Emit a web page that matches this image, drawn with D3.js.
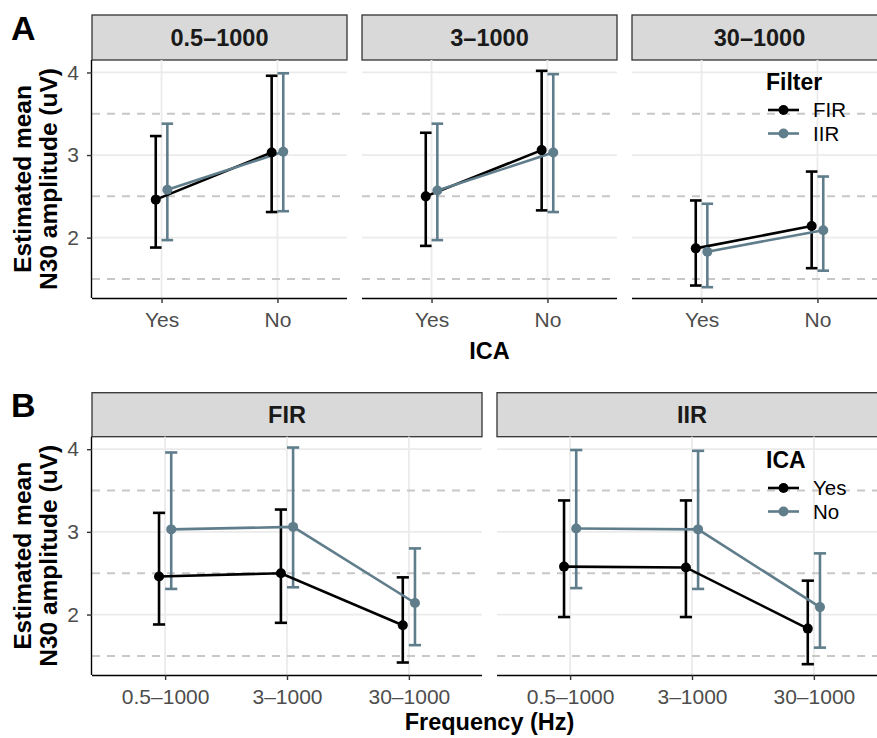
<!DOCTYPE html>
<html><head><meta charset="utf-8">
<script src="https://cdn.jsdelivr.net/npm/d3@7"></script>
<style>body{margin:0;background:#fff;} svg{display:block;font-family:"Liberation Sans",Arial,Helvetica,sans-serif;}</style>
</head><body><svg id="c" width="877" height="738"></svg>
<script>
// ---- data ----
const freqs = ["0.5–1000", "3–1000", "30–1000"];
const filters = ["FIR", "IIR"];
const icaLevels = ["Yes", "No"];
const yTicks = [2, 3, 4];
const refLines = [1.5, 2.5, 3.5];
// values per frequency (0.5–1000, 3–1000, 30–1000)
const firYesMean = [2.46, 2.50, 1.87];
const firYesLow  = [1.88, 1.90, 1.42];
const firYesHigh = [3.23, 3.27, 2.45];
const firNoMean  = [3.03, 3.06, 2.14];
const firNoLow   = [2.31, 2.33, 1.63];
const firNoHigh  = [3.96, 4.02, 2.80];
const iirYesMean = [2.58, 2.57, 1.83];
const iirYesLow  = [1.97, 1.97, 1.40];
const iirYesHigh = [3.38, 3.38, 2.41];
const iirNoMean  = [3.04, 3.03, 2.09];
const iirNoLow   = [2.32, 2.31, 1.60];
const iirNoHigh  = [3.99, 3.98, 2.74];

const table = {
  FIR: {Yes: [firYesMean, firYesLow, firYesHigh], No: [firNoMean, firNoLow, firNoHigh]},
  IIR: {Yes: [iirYesMean, iirYesLow, iirYesHigh], No: [iirNoMean, iirNoLow, iirNoHigh]}
};
const rows = [];
filters.forEach(f => icaLevels.forEach(ic => freqs.forEach((fr, i) => {
  const t = table[f][ic];
  rows.push({filter: f, ica: ic, freq: fr, mean: t[0][i], low: t[1][i], high: t[2][i]});
})));

const COL1 = "#000000", COL2 = "#607D8B";
const LW = 2.6, PR = 5;
const lo = d3.min(rows, d => d.low), hi = d3.max(rows, d => d.high), pad = (hi - lo) * 0.05;

const svg = d3.select("#c");

function facetRow(cfg) {
  const left = 92, right = 887, gap = 15;
  const n = cfg.facets.length;
  const w = (right - left - gap * (n - 1)) / n;
  const plotTop = cfg.plotTop, plotBot = cfg.plotTop + cfg.plotH;
  const y = d3.scaleLinear().domain([lo - pad, hi + pad]).range([plotBot, plotTop]);
  const colorOf = d3.scaleOrdinal().domain(cfg.groupLevels).range([COL1, COL2]);

  cfg.facets.forEach((fac, fi) => {
    const x0 = left + fi * (w + gap);
    const x = d3.scalePoint().domain(cfg.xLevels).range([x0, x0 + w]).padding(0.6);
    const step = x.step();
    const dodge = d3.scalePoint().domain(cfg.groupLevels).range([-0.05 * step, 0.05 * step]);
    const g = svg.append("g");

    // strip
    g.append("rect").attr("x", x0).attr("y", cfg.stripTop).attr("width", w).attr("height", plotTop - cfg.stripTop)
      .attr("fill", "#D9D9D9").attr("stroke", "#333333").attr("stroke-width", 1.3);
    g.append("text").attr("x", x0 + w / 2).attr("y", (cfg.stripTop + plotTop) / 2).attr("dy", "0.36em")
      .attr("text-anchor", "middle").attr("font-size", 23.5).attr("font-weight", "bold").attr("fill", "#1A1A1A").text(fac);

    // grid
    g.selectAll(".gh").data(yTicks).join("line")
      .attr("x1", x0).attr("x2", x0 + w).attr("y1", d => y(d)).attr("y2", d => y(d))
      .attr("stroke", "#EBEBEB").attr("stroke-width", 1.8);
    g.selectAll(".gv").data(cfg.xLevels).join("line")
      .attr("x1", d => x(d)).attr("x2", d => x(d)).attr("y1", plotTop).attr("y2", plotBot)
      .attr("stroke", "#EBEBEB").attr("stroke-width", 1.8);
    g.selectAll(".rl").data(refLines).join("line")
      .attr("x1", x0).attr("x2", x0 + w).attr("y1", d => y(d)).attr("y2", d => y(d))
      .attr("stroke", "#C8C8C8").attr("stroke-width", 2).attr("stroke-dasharray", "8,7");

    // x axis
    const xa = g.append("g").attr("transform", `translate(0,${plotBot})`)
      .call(d3.axisBottom(x).tickSize(5).tickPadding(8));
    xa.select(".domain").attr("stroke", "#000").attr("stroke-width", 1.4)
      .attr("d", `M${x0},0.5H${x0 + w}`);
    xa.selectAll(".tick line").attr("stroke", "#333").attr("stroke-width", 1.4);
    xa.selectAll(".tick text").attr("font-size", 21).attr("fill", "#4D4D4D")
      .attr("font-family", "Liberation Sans, Arial, sans-serif").attr("y", 29).attr("dy", null);

    if (fi === 0) {
      const ya = g.append("g").attr("transform", `translate(${x0},0)`)
        .call(d3.axisLeft(y).tickValues(yTicks).tickFormat(d3.format("d")).tickSize(5).tickPadding(8));
      ya.select(".domain").attr("stroke", "#000").attr("stroke-width", 1.4)
        .attr("d", `M-0.5,${plotTop}V${plotBot}`);
      ya.selectAll(".tick line").attr("stroke", "#333").attr("stroke-width", 1.4);
      ya.selectAll(".tick text").attr("font-size", 21).attr("fill", "#4D4D4D")
        .attr("font-family", "Liberation Sans, Arial, sans-serif");
    }

    const sub = rows.filter(r => r[cfg.facetKey] === fac);
    const px = d => x(d[cfg.xKey]) + dodge(d[cfg.groupKey]);
    const cap = 0.05 * step;
    // error bars
    cfg.groupLevels.forEach(gl => {
      const s = sub.filter(r => r[cfg.groupKey] === gl);
      const eg = g.append("g").attr("stroke", colorOf(gl)).attr("stroke-width", LW).attr("fill", "none");
      s.forEach(d => {
        eg.append("line").attr("x1", px(d)).attr("x2", px(d)).attr("y1", y(d.low)).attr("y2", y(d.high));
        eg.append("line").attr("x1", px(d) - cap).attr("x2", px(d) + cap).attr("y1", y(d.low)).attr("y2", y(d.low));
        eg.append("line").attr("x1", px(d) - cap).attr("x2", px(d) + cap).attr("y1", y(d.high)).attr("y2", y(d.high));
      });
    });
    // lines
    cfg.groupLevels.forEach(gl => {
      const s = sub.filter(r => r[cfg.groupKey] === gl);
      g.append("path").datum(s).attr("fill", "none").attr("stroke", colorOf(gl)).attr("stroke-width", LW)
        .attr("d", d3.line().x(px).y(d => y(d.mean)));
    });
    // points
    cfg.groupLevels.forEach(gl => {
      const s = sub.filter(r => r[cfg.groupKey] === gl);
      g.selectAll(null).data(s).join("circle").attr("cx", px).attr("cy", d => y(d.mean)).attr("r", PR)
        .attr("fill", colorOf(gl));
    });
  });

  // y axis title
  const cy = (plotTop + plotBot) / 2;
  [["Estimated mean", 22], ["N30 amplitude (uV)", 48.5]].forEach(([t, cx]) => {
    svg.append("text").attr("transform", `translate(${cx},${cy}) rotate(-90)`).attr("dy", "0.36em")
      .attr("text-anchor", "middle").attr("font-size", 24.5).attr("font-weight", "bold").text(t);
  });
  // x axis title
  svg.append("text").attr("x", (left + right) / 2).attr("y", cfg.xTitleY).attr("text-anchor", "middle")
    .attr("font-size", 23.5).attr("font-weight", "bold").text(cfg.xTitle);
  // panel tag
  svg.append("text").attr("x", 11).attr("y", cfg.tagY).attr("font-size", 34).attr("font-weight", "bold").text(cfg.tag);

  // legend
  const L = svg.append("g");
  L.append("text").attr("x", 766).attr("y", cfg.legY).attr("font-size", 23).attr("font-weight", "bold").text(cfg.legTitle);
  cfg.groupLevels.forEach((gl, i) => {
    const ky = cfg.legY + 20 + i * 23.5;
    L.append("line").attr("x1", 768).attr("x2", 799).attr("y1", ky).attr("y2", ky)
      .attr("stroke", colorOf(gl)).attr("stroke-width", LW);
    L.append("circle").attr("cx", 783.5).attr("cy", ky).attr("r", PR).attr("fill", colorOf(gl));
    L.append("text").attr("x", 813).attr("y", ky).attr("dy", "0.36em").attr("font-size", 20.5).text(gl);
  });
}

facetRow({
  facets: freqs, facetKey: "freq", xLevels: icaLevels, xKey: "ica",
  groupLevels: filters, groupKey: "filter",
  stripTop: 15, plotTop: 60, plotH: 238,
  xTitle: "ICA", xTitleY: 359, tag: "A", tagY: 40,
  legTitle: "Filter", legY: 90
});
facetRow({
  facets: filters, facetKey: "filter", xLevels: freqs, xKey: "freq",
  groupLevels: icaLevels, groupKey: "ica",
  stripTop: 392.7, plotTop: 436.7, plotH: 238.3,
  xTitle: "Frequency (Hz)", xTitleY: 730, tag: "B", tagY: 417,
  legTitle: "ICA", legY: 468
});
</script></body></html>
